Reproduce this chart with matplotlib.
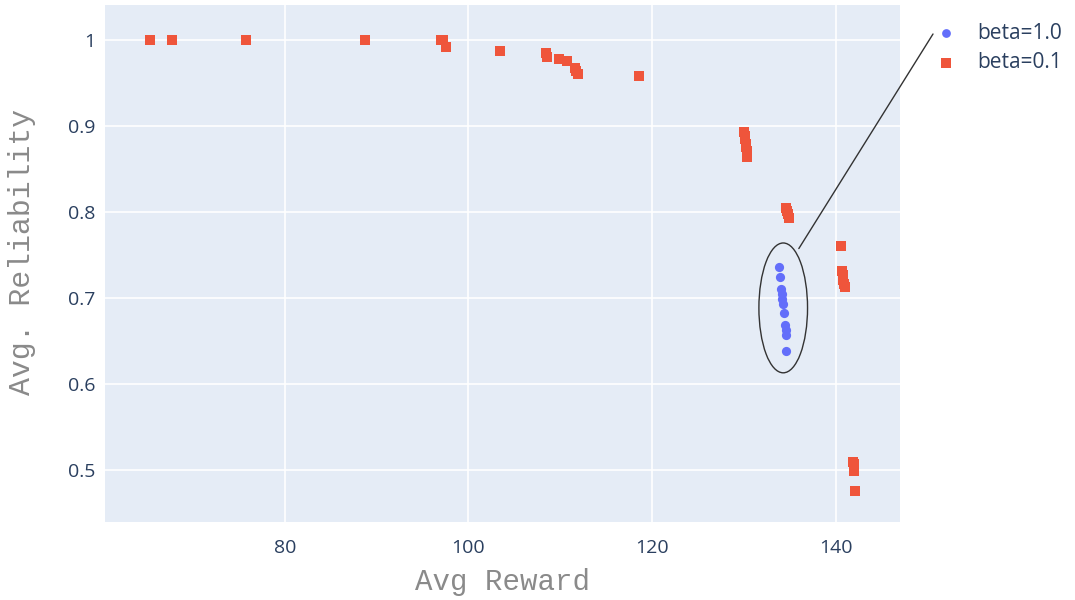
import numpy as np
import matplotlib.pyplot as plt
from matplotlib.patches import Ellipse

# beta=1.0 runs
reward_b1 = [133.8, 134.0, 134.1, 134.2, 134.2, 134.3, 134.4, 134.5, 134.6, 134.6, 134.6]
rel_b1 = [0.736, 0.725, 0.711, 0.705, 0.699, 0.694, 0.683, 0.669, 0.663, 0.657, 0.639]

# beta=0.1 runs
reward_b01 = [65.3, 67.7, 75.8, 88.7, 97.0, 97.2, 97.5, 103.4, 108.5, 108.6, 109.9, 110.7,
              111.6, 111.7, 111.9, 118.6,
              130.0, 130.1, 130.1, 130.2, 130.2, 130.3, 130.4, 130.4,
              134.6, 134.7, 134.8, 134.9,
              140.6, 140.7, 140.8, 140.8, 140.9, 141.0,
              141.9, 142.0, 142.0, 142.1]
rel_b01 = [1.0, 1.0, 1.0, 1.0, 1.0, 1.0, 0.993, 0.988, 0.985, 0.981, 0.979, 0.976,
           0.968, 0.965, 0.961, 0.959,
           0.893, 0.889, 0.885, 0.880, 0.876, 0.872, 0.867, 0.864,
           0.805, 0.802, 0.798, 0.794,
           0.761, 0.732, 0.727, 0.722, 0.717, 0.713,
           0.510, 0.508, 0.499, 0.476]

xticks = [80, 100, 120, 140]
yticks = [0.5, 0.6, 0.7, 0.8, 0.9, 1.0]
ytick_labels = ['0.5', '0.6', '0.7', '0.8', '0.9', '1']

fig = plt.figure(figsize=(10.75, 6), dpi=100)
ax = fig.add_axes([0.0977, 0.13, 0.7393, 0.862])
ax.set_facecolor('#E5ECF6')

ax.scatter(reward_b1, rel_b1, marker='o', s=44, color='#636EFA',
           linewidths=0, label='beta=1.0', zorder=3)
ax.scatter(reward_b01, rel_b01, marker='s', s=56, color='#EF553B',
           linewidths=0, label='beta=0.1', zorder=3)

# highlight the beta=1.0 cluster
ax.add_patch(Ellipse((134.3, 0.689), 5.3, 0.151, fill=False,
                     edgecolor='#333333', linewidth=1.0, zorder=4))
ax.annotate('', xy=(136.0, 0.758), xytext=(933, 566), textcoords='figure pixels',
            arrowprops=dict(arrowstyle='-', color='#333333', lw=1.0,
                            shrinkA=0, shrinkB=0), annotation_clip=False)

ax.set_xlim(60.4, 147.0)
ax.set_ylim(0.440, 1.0415)
ax.set_xticks(xticks)
ax.set_yticks(yticks)
ax.set_yticklabels(ytick_labels)
ax.grid(True, color='white', linewidth=1.2)
ax.set_axisbelow(True)
for s in ax.spines.values():
    s.set_visible(False)
ax.tick_params(length=0, labelsize=14, colors='#2a3f5f')
ax.tick_params(axis='x', pad=12)
ax.tick_params(axis='y', pad=7)
for lbl in ax.get_xticklabels() + ax.get_yticklabels():
    lbl.set_fontfamily('Open Sans')

ax.set_xlabel('Avg Reward', fontsize=21, color='#8a8a8a',
              fontfamily='Liberation Mono', labelpad=8)
ax.set_ylabel('Avg. Reliability', fontsize=21.5, color='#8a8a8a',
              fontfamily='Liberation Mono', va='center', ha='center')
ax.yaxis.set_label_coords(-0.104, 0.522)

leg = ax.legend(loc='upper left', bbox_to_anchor=(1.035, 0.981), frameon=False,
                prop={'family': 'Open Sans', 'size': 15}, handlelength=1.0,
                handletextpad=1.0, labelspacing=0.4, borderaxespad=0,
                markerscale=0.95)
for t in leg.get_texts():
    t.set_color('#2a3f5f')

fig.savefig('out.png', dpi=100)
